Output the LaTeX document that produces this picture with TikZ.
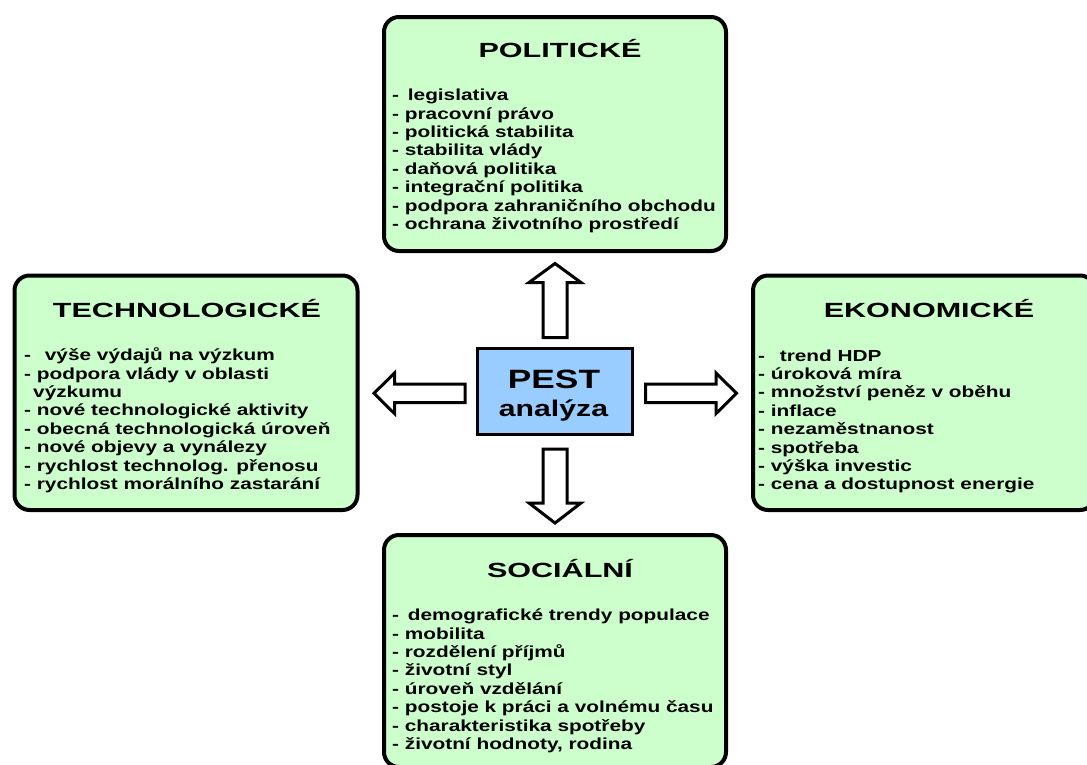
\documentclass[tikz,border=0pt]{standalone}
\usepackage{fontspec}
\setmainfont{Liberation Sans}
% widened bold sans faces for headings, lists and the central label
\newfontfamily\titlefont[FakeStretch=1.49]{Liberation Sans}
\newfontfamily\itemfont[FakeStretch=1.3]{Liberation Sans}
\newfontfamily\pestfont[FakeStretch=1.33]{Liberation Sans}
\definecolor{boxgreen}{HTML}{CCFFCC}
\definecolor{pestblue}{HTML}{99CCFF}
\tikzset{
  areabox/.style={draw=black, line width=4pt, fill=boxgreen, rounded corners=15pt, inner sep=0pt},
  centerbox/.style={draw=black, line width=3pt, fill=pestblue, inner sep=0pt},
  boxtitle/.style={anchor=base, inner sep=0pt, font=\titlefont\bfseries\fontsize{20.5}{24}\selectfont},
  itemlist/.style={anchor=base west, inner sep=0pt, font=\itemfont\bfseries\fontsize{16}{18.4}\selectfont},
  pestlabel/.style={anchor=base, inner sep=0pt},
  fatarrow/.style={draw=black, line width=3pt, fill=white, line join=miter},
  % hollow block arrow: length, shaft half width, head half width, head length
  pics/blockarrow/.style n args={4}{code={
    \path[fatarrow] (0,-#2) -- ({#1-#4},-#2) -- ({#1-#4},-#3) -- (#1,0)
      -- ({#1-#4},#3) -- ({#1-#4},#2) -- (0,#2) -- cycle;}}
}
\begin{document}
\begin{tikzpicture}[x=1pt,y=-1pt]
\useasboundingbox (0,0) rectangle (1087,764);
\fill[white] (0,0) rectangle (1087,764);
\clip (0,0) rectangle (1087,764);

% the four factor boxes
\node[areabox, minimum width=342pt, minimum height=234pt] (pol) at (555,134) {};
\node[areabox, minimum width=343pt, minimum height=234.5pt] (tech) at (186,392.75) {};
\node[areabox, minimum width=342pt, minimum height=234.5pt] (eko) at (924,392.75) {};
\node[areabox, minimum width=342pt, minimum height=232pt] (soc) at (555,651) {};

% headings
\node[boxtitle] (poltitle) at (560,57) {POLITICKÉ};
\node[boxtitle] (techtitle) at (187,317) {TECHNOLOGICKÉ};
\node[boxtitle] (ekotitle) at (929,317) {EKONOMICKÉ};
\node[boxtitle] (soctitle) at (560,577) {SOCIÁLNÍ};

% factor lists
\node[itemlist] (politems) at (392,100.7) {\begin{tabular}[t]{@{}l@{}}
-\hspace{3pt} legislativa\\
- pracovní právo\\
- politická stabilita\\
- stabilita vlády\\
- daňová politika\\
- integrační politika\\
- podpora zahraničního obchodu\\
- ochrana životního prostředí
\end{tabular}};

\node[itemlist] (techitems) at (24,360.7) {\begin{tabular}[t]{@{}l@{}}
-\hspace{8pt} výše výdajů na výzkum\\
- podpora vlády v oblasti\\
\hspace*{9pt}výzkumu\\
- nové technologické aktivity\\
- obecná technologická úroveň\\
- nové objevy a vynálezy\\
- rychlost technolog. přenosu\\
- rychlost morálního zastarání
\end{tabular}};

\node[itemlist] (ekoitems) at (758,361) {\begin{tabular}[t]{@{}l@{}}
-\hspace{9pt} trend HDP\\
- úroková míra\\
- množství peněz v oběhu\\
- inflace\\
- nezaměstnanost\\
- spotřeba\\
- výška investic\\
- cena a dostupnost energie
\end{tabular}};

\node[itemlist] (socitems) at (392,620.7) {\begin{tabular}[t]{@{}l@{}}
-\hspace{3pt} demografické trendy populace\\
- mobilita\\
- rozdělení příjmů\\
- životní styl\\
- úroveň vzdělání\\
- postoje k práci a volnému času\\
- charakteristika spotřeby\\
- životní hodnoty, rodina
\end{tabular}};

% central box
\node[centerbox, minimum width=155pt, minimum height=86pt] (pest) at (555,391) {};
\node[pestlabel, font=\pestfont\bfseries\fontsize{26.5}{30}\selectfont] (pesttop) at (554,388) {PEST};
\node[pestlabel, font=\pestfont\bfseries\fontsize{22.7}{26}\selectfont] (pestbottom) at (553.5,416.7) {analýza};

% block arrows pointing from the centre to each box
\pic[rotate=90] at (555,337.5) {blockarrow={74}{12}{26}{19}};
\pic[rotate=-90] at (555,449) {blockarrow={74}{12}{26}{20}};
\pic[rotate=180] at (465,393.3) {blockarrow={91}{9.2}{20.3}{20.5}};
\pic at (645.5,393.3) {blockarrow={91}{9.2}{20.3}{20.5}};
\end{tikzpicture}
\end{document}
